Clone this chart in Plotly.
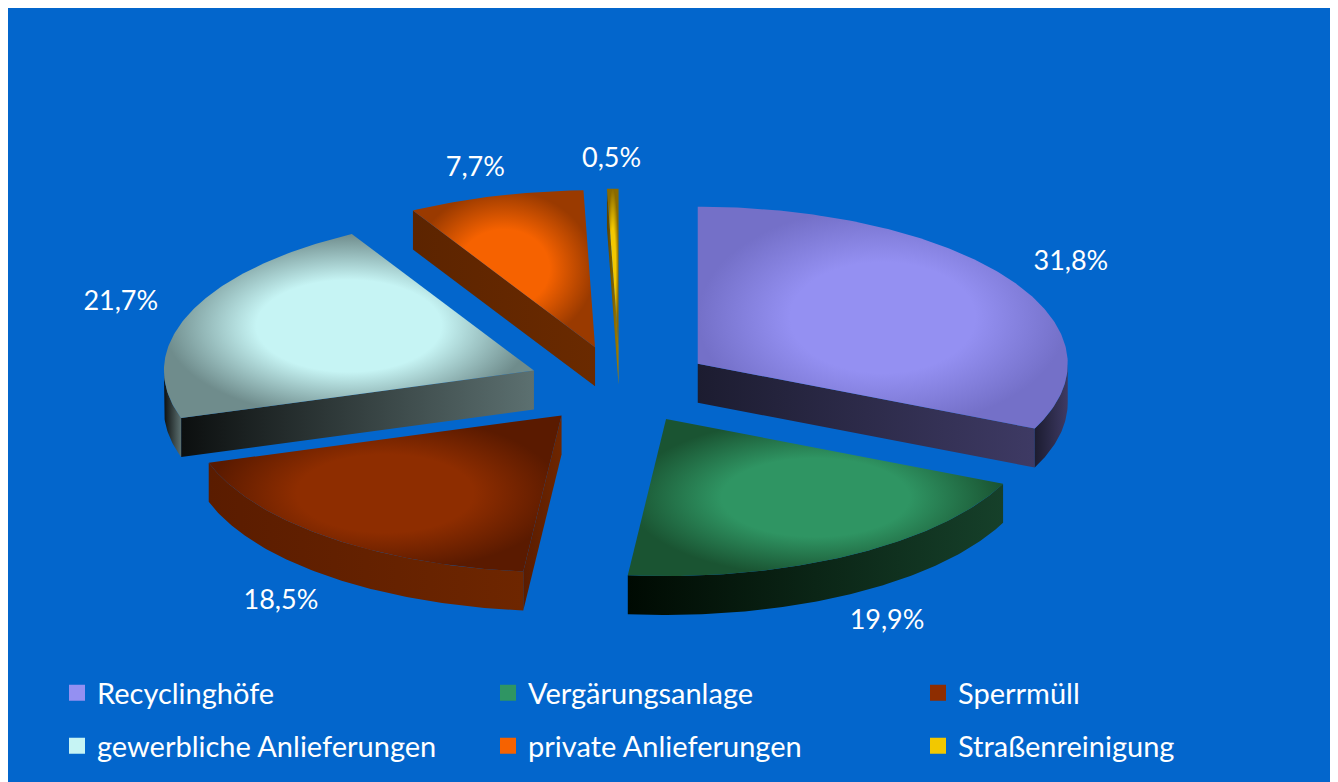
import numpy as np
import plotly.graph_objects as go

# ---------------- data ----------------
categories = ["Recyclinghöfe", "Vergärungsanlage", "Sperrmüll",
              "gewerbliche Anlieferungen", "private Anlieferungen", "Straßenreinigung"]
shares = [31.8, 19.9, 18.5, 21.7, 7.7, 0.5]
share_labels = ["31,8%", "19,9%", "18,5%", "21,7%", "7,7%", "0,5%"]

# ---------------- styles ----------------
top_colors = ["#9490F2", "#2F9563", "#8E2D00", "#C6F4F4", "#F66200", "#F2C800"]
top_edge = ["#7470C8", "#1A5432", "#5A1A00", "#6F8C8C", "#9A3A00", "#8A6A00"]
side_dark = ["#1C1C30", "#000A02", "#5A1C00", "#0C0F0F", "#5C2400", "#5A4200"]
side_light = ["#3E3A64", "#16402A", "#6E2600", "#5C7070", "#6A2A00", "#A07E00"]
BLUE = "#0366CC"
OFF = 8                    # page body margin (pixels)
W, H = 1327, 776
CX, CY = 620, 385          # pie centre (screen pixels)
RX, RY = 370, 157          # ellipse radii of the tilted disc
DEPTH = 39                 # slab thickness
EXPLODE = 0.25             # explode distance (fraction of radius)
LABEL_RX, LABEL_RY = 1.45, 1.43
FONT = "Lato"
LEG_COL_X = [49, 480, 910]         # legend column left edges (figure px)
LEG_ROW_Y = [693, 746]             # legend row centres (screen px)

fig = go.Figure()

total = float(sum(shares))
angles = []
a = 90.0
for s in shares:
    span = s / total * 360.0
    angles.append((a, a - span))
    a -= span


def pt(theta, ox, oy, dz=0.0):
    t = np.radians(theta)
    return ox + RX * np.cos(t), oy - RY * np.sin(t) + dz


def arc(t0, t1, ox, oy, dz=0.0):
    n = max(3, int(abs(t0 - t1) * 1.5))
    ts = np.linspace(t0, t1, n)
    xs, ys = pt(ts, ox, oy, dz)
    return list(xs), list(ys)


def poly(xs, ys, fill, grad=None):
    kw = dict(x=xs + [xs[0]], y=ys + [ys[0]], mode="lines", fill="toself",
              line=dict(width=0, color=fill), fillcolor=fill,
              hoverinfo="skip", showlegend=False)
    if grad is not None:
        kw["fillgradient"] = grad
    fig.add_trace(go.Scatter(**kw))


slices = []
for i, (ts, te) in enumerate(angles):
    mid = (ts + te) / 2.0
    m = np.radians(mid)
    ox = CX + EXPLODE * RX * np.cos(m)
    oy = CY - EXPLODE * RY * np.sin(m)
    slices.append((np.sin(m), i, ts, te, mid, ox, oy))

# draw back-to-front
for sn, i, ts, te, mid, ox, oy in sorted(slices, key=lambda r: -r[0]):
    hgrad = dict(type="horizontal",
                 colorscale=[[0, side_dark[i]], [1, side_light[i]]])
    # radial cut faces
    for th, vis in ((ts, np.cos(np.radians(ts)) < -1e-6),
                    (te, np.cos(np.radians(te)) > 1e-6)):
        if vis:
            ex, ey = pt(th, ox, oy)
            poly([ox, ex, ex, ox], [oy, ey, ey + DEPTH, oy + DEPTH],
                 side_light[i], hgrad)
    # outer curved side (front half only)
    lo, hi = max(te, -180.0), min(ts, 0.0)
    if hi > lo:
        xs, ys = arc(hi, lo, ox, oy)
        xb, yb = arc(lo, hi, ox, oy, DEPTH)
        poly(xs + xb, ys + yb, side_light[i], hgrad)
    # top face
    xs, ys = arc(ts, te, ox, oy)
    poly([ox] + xs, [oy] + ys, top_colors[i],
         dict(type="radial", colorscale=[[0, top_colors[i]], [0.5, top_colors[i]],
                                         [1, top_edge[i]]]))

# value labels
lx, ly = [], []
for sn, i, ts, te, mid, ox, oy in sorted(slices, key=lambda r: r[1]):
    t = np.radians(mid)
    lx.append(CX + LABEL_RX * RX * np.cos(t))
    ly.append(CY - LABEL_RY * RY * np.sin(t) + (DEPTH + 4 if np.sin(t) < 0 else 0))
fig.add_trace(go.Scatter(x=lx, y=ly, mode="text", text=share_labels,
                         textfont=dict(family=FONT, size=27, color="white"),
                         hoverinfo="skip", showlegend=False))

# legend entries: one small legend per cell of a 3 x 2 grid
legends = {}
for i, c in enumerate(categories):
    key = "legend" if i == 0 else f"legend{i + 1}"
    fig.add_trace(go.Scatter(x=[None], y=[None], mode="markers", name=c,
                             marker=dict(symbol="square", size=18, color=top_colors[i],
                                         line=dict(width=0)),
                             legend=key, hoverinfo="skip"))
    col, row = i % 3, i // 3
    legends[key] = dict(orientation="h", xanchor="left", yanchor="middle",
                        x=LEG_COL_X[col] / W, y=1 - (LEG_ROW_Y[row] - OFF) / H,
                        bgcolor="rgba(0,0,0,0)",
                        font=dict(family=FONT, size=29, color="white"),
                        itemsizing="trace", itemclick=False, itemdoubleclick=False)

fig.update_layout(
    width=W, height=H,
    margin=dict(l=0, r=0, t=0, b=0),
    paper_bgcolor=BLUE, plot_bgcolor=BLUE,
    xaxis=dict(domain=[0, 1], range=[OFF, OFF + W], visible=False, fixedrange=True),
    yaxis=dict(domain=[0, 1], range=[OFF + H, OFF], visible=False, fixedrange=True),
    showlegend=True,
    **legends,
)

fig.write_html("out.html")
